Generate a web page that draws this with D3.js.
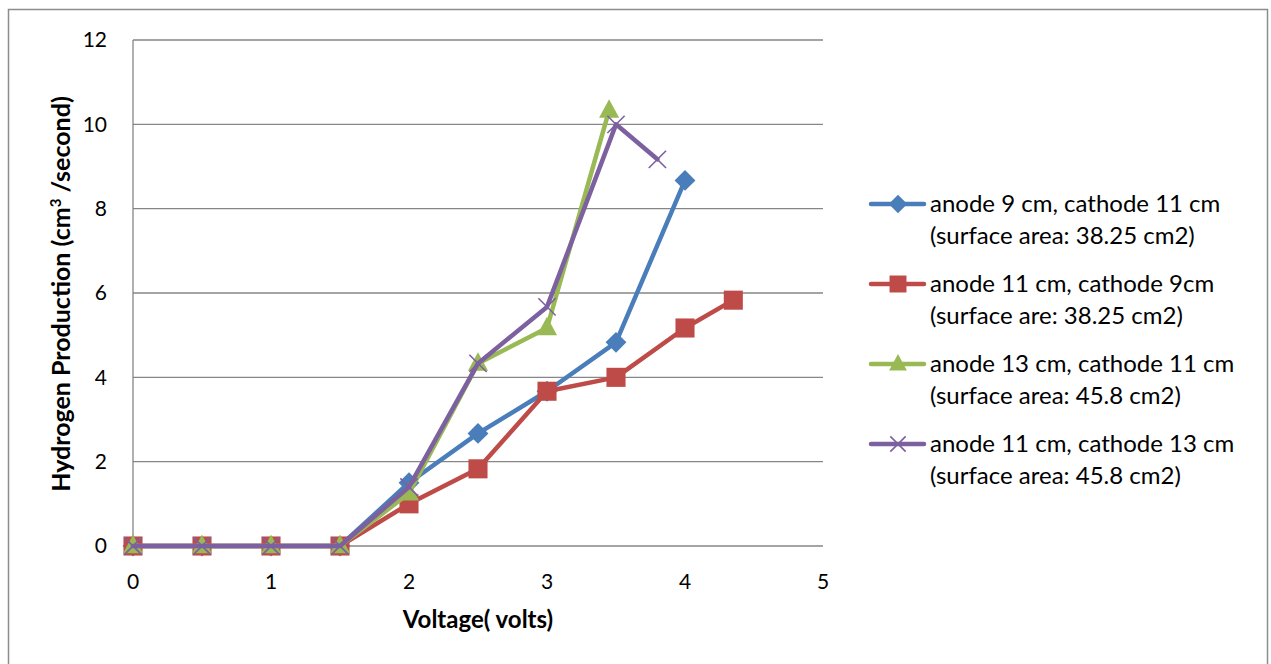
<!DOCTYPE html>
<html>
<head>
<meta charset="utf-8">
<script src="https://cdn.jsdelivr.net/npm/d3@7/dist/d3.min.js"></script>
<style>
  html, body { margin: 0; padding: 0; background: #fff; }
  svg { display: block; font-family: Lato, "Open Sans", sans-serif; }
</style>
</head>
<body>
<svg id="chart" width="1271" height="664"></svg>
<script>
// Voltage (volts) for each series
const xBlue   = [0, 0.5, 1, 1.5, 2, 2.5, 3, 3.5, 4];
const xRed    = [0, 0.5, 1, 1.5, 2, 2.5, 3, 3.5, 4, 4.35];
const xGreen  = [0, 0.5, 1, 1.5, 2, 2.5, 3, 3.45];
const xPurple = [0, 0.5, 1, 1.5, 2, 2.5, 3, 3.5, 3.8];

// Hydrogen production (cm³/second)
const yBlue   = [0, 0, 0, 0, 1.5, 2.67, 3.67, 4.83, 8.67];
const yRed    = [0, 0, 0, 0, 1.0, 1.83, 3.67, 4.0, 5.17, 5.83];
const yGreen  = [0, 0, 0, 0, 1.25, 4.33, 5.17, 10.33];
const yPurple = [0, 0, 0, 0, 1.4, 4.33, 5.67, 10.0, 9.17];

const seriesNames = [
  ["anode 9 cm, cathode 11 cm", "(surface area: 38.25 cm2)"],
  ["anode 11 cm, cathode 9cm", "(surface are: 38.25 cm2)"],
  ["anode 13 cm, cathode 11 cm", "(surface area: 45.8 cm2)"],
  ["anode 11 cm, cathode 13 cm", "(surface area: 45.8 cm2)"]
];
const colors = ["#4a7ebb", "#be4b48", "#98b954", "#7d60a0"];
const markers = ["diamond", "square", "triangle", "cross"];

const xTicks = [0, 1, 2, 3, 4, 5];
const yTicks = [0, 2, 4, 6, 8, 10, 12];

const series = [
  { x: xBlue, y: yBlue },
  { x: xRed, y: yRed },
  { x: xGreen, y: yGreen },
  { x: xPurple, y: yPurple }
].map((s, i) => ({
  name: seriesNames[i], color: colors[i], marker: markers[i],
  pts: s.x.map((v, j) => [v, s.y[j]])
}));

const svg = d3.select("#chart");

// outer chart frame
svg.append("rect")
  .attr("x", 8.5).attr("y", 9.5).attr("width", 1259).attr("height", 700)
  .attr("fill", "#fff").attr("stroke", "#8c8c8c").attr("stroke-width", 1.5);

const xScale = d3.scaleLinear().domain([0, 5]).range([133, 823]);
const yScale = d3.scaleLinear().domain([0, 12]).range([546, 40]);

// horizontal gridlines
svg.append("g").selectAll("line").data(yTicks).join("line")
  .attr("x1", xScale(0)).attr("x2", xScale(5))
  .attr("y1", d => yScale(d)).attr("y2", d => yScale(d))
  .attr("stroke", "#868686").attr("stroke-width", 1.3);

// y axis line
svg.append("line")
  .attr("x1", xScale(0)).attr("x2", xScale(0))
  .attr("y1", yScale(12)).attr("y2", yScale(0))
  .attr("stroke", "#868686").attr("stroke-width", 1.3);

// y tick labels
svg.append("g").selectAll("text").data(yTicks).join("text")
  .attr("x", 107).attr("y", d => yScale(d))
  .attr("dy", "0.35em").attr("text-anchor", "end")
  .attr("font-size", 21).attr("fill", "#000")
  .text(d => d);

// x tick labels
svg.append("g").selectAll("text").data(xTicks).join("text")
  .attr("x", d => xScale(d)).attr("y", 589)
  .attr("text-anchor", "middle")
  .attr("font-size", 21).attr("fill", "#000")
  .text(d => d);

// axis titles
svg.append("text")
  .attr("x", 478).attr("y", 628).attr("text-anchor", "middle")
  .attr("font-size", 24).attr("font-weight", "bold")
  .text("Voltage( volts)");

const yt = svg.append("text")
  .attr("transform", "translate(70,294) rotate(-90)")
  .attr("text-anchor", "middle")
  .attr("font-size", 25).attr("font-weight", "bold");
yt.append("tspan").text("Hydrogen Production  (cm");
yt.append("tspan").attr("font-size", 15).attr("dy", -9).text("3");
yt.append("tspan").attr("dy", 9).text(" /second)");

// marker drawing
function drawMarker(g, type, color, size) {
  if (type === "diamond") {
    const s = size * 0.58;
    g.append("path").attr("d", `M0,${-s}L${s},0L0,${s}L${-s},0Z`).attr("fill", color);
  } else if (type === "square") {
    const s = size * 0.53;
    g.append("rect").attr("x", -s).attr("y", -s).attr("width", 2 * s).attr("height", 2 * s)
      .attr("fill", color);
  } else if (type === "triangle") {
    const s = size * 0.62;
    g.append("path").attr("d", `M0,${-s}L${s * 0.9},${s * 0.65}L${-s * 0.9},${s * 0.65}Z`).attr("fill", color);
  } else if (type === "cross") {
    const s = size * 0.48;
    g.append("path").attr("d", `M${-s},${-s}L${s},${s}M${-s},${s}L${s},${-s}`)
      .attr("stroke", color).attr("stroke-width", 1.6).attr("fill", "none");
  }
}

const line = d3.line().x(d => xScale(d[0])).y(d => yScale(d[1]));

series.forEach(s => {
  const g = svg.append("g");
  g.append("path").datum(s.pts).attr("d", line)
    .attr("fill", "none").attr("stroke", s.color).attr("stroke-width", 4.5)
    .attr("stroke-linejoin", "round").attr("stroke-linecap", "round");
  s.pts.forEach(p => {
    const m = g.append("g").attr("transform", `translate(${xScale(p[0])},${yScale(p[1])})`);
    drawMarker(m, s.marker, s.color, 18);
  });
});

// legend
const legY = [204, 284, 364, 444];
series.forEach((s, i) => {
  const g = svg.append("g").attr("transform", `translate(0,${legY[i]})`);
  g.append("line").attr("x1", 871).attr("x2", 924).attr("y1", 0).attr("y2", 0)
    .attr("stroke", s.color).attr("stroke-width", 4.5).attr("stroke-linecap", "round");
  const m = g.append("g").attr("transform", "translate(898,0)");
  drawMarker(m, s.marker, s.color, 16);
  g.append("text").attr("x", 930).attr("y", 0).attr("dy", "0.35em")
    .attr("font-size", 24).text(s.name[0]);
  g.append("text").attr("x", 930).attr("y", 32).attr("dy", "0.35em")
    .attr("font-size", 24).text(s.name[1]);
});
</script>
</body>
</html>
